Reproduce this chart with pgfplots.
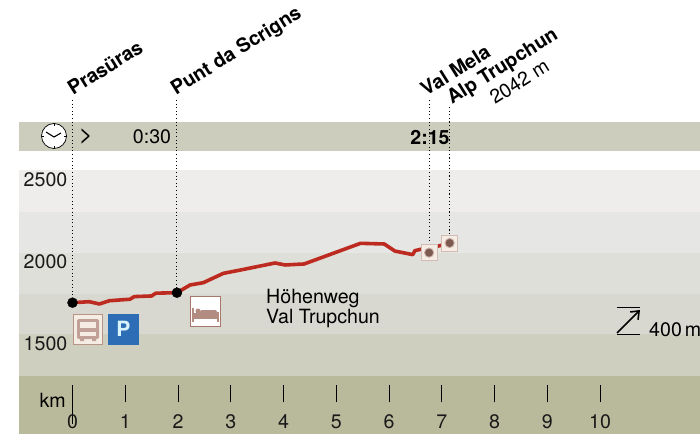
\documentclass[border=0pt]{standalone}
\usepackage{fontspec}
\setmainfont{TeX Gyre Heros}
\usepackage{pgfplots}
\usetikzlibrary{arrows.meta}
\pgfplotsset{compat=1.18}
\definecolor{strip}{HTML}{CCCDBD}
\definecolor{bA}{HTML}{EEEDEB}
\definecolor{bB}{HTML}{E6E6E4}
\definecolor{bC}{HTML}{DFDFD9}
\definecolor{bD}{HTML}{D8D8D0}
\definecolor{bE}{HTML}{CFCFBF}
\definecolor{bF}{HTML}{B9BA9B}
\definecolor{route}{HTML}{BC2A20}
\definecolor{icon}{HTML}{A5786A}
\definecolor{iconbg}{HTML}{F5EDE3}
\definecolor{pblue}{HTML}{2D6DB5}
\newcommand\lab{\fontsize{19.6}{22}\selectfont}
\newcommand\Pt[2]{({#1pt},{434pt-#2pt})}
\newcommand\band[3]{\addplot[fill=#1,draw=none] coordinates {(-1.0142,#2) (11.8957,#2) (11.8957,#3) (-1.0142,#3)} -- cycle;}
\begin{document}
\begin{tikzpicture}
\path[use as bounding box] (0,0) rectangle (700pt,434pt);
\begin{axis}[
  at={(0,0)},anchor=south west,
  scale only axis,width=700pt,height=434pt,
  xmin=-1.3744,xmax=11.8957,ymin=896.3,ymax=3542.7,
  clip=false,axis on top,
  axis x line=bottom,axis y line=left,
  axis x line shift=-32pt,axis y line shift=-67pt,
  x axis line style={draw=none,-},y axis line style={draw=none,-},
  xtick={0,1,...,10},ytick={1500,2000,2500},
  xtick align=inside,
  x tick style={black,line width=0.9pt},y tick style={draw=none},
  major tick length=17pt,
  /pgf/number format/assume math mode=true,
  /pgf/number format/1000 sep={},
  tick label style={font=\lab,text=black!90},
  xticklabel style={inner ysep=0pt,yshift=-12.5pt},
  yticklabel style={yshift=-8.8pt,xshift=9pt,inner xsep=0pt},
]
\band{strip}{2799}{2622}
\band{bA}{2506}{2250}
\band{bB}{2250}{2000}
\band{bC}{2000}{1750}
\band{bD}{1750}{1506}
\band{bE}{1506}{1250}
\band{bF}{1250}{896.3}
% leader lines
\addplot[black,line width=1.1pt,dash pattern=on 1.1pt off 2.5pt] coordinates {(0,2933) (0,1697)};
\addplot[black,line width=1.1pt,dash pattern=on 1.1pt off 2.5pt] coordinates {(1.98,2933) (1.98,1758)};
\addplot[black,line width=1.1pt,dash pattern=on 1.1pt off 2.5pt] coordinates {(6.76,2933) (6.76,2049)};
\addplot[black,line width=1.1pt,dash pattern=on 1.1pt off 2.5pt] coordinates {(7.15,2890) (7.15,2110)};
% km 0 long tick
\addplot[black,line width=1.4pt] coordinates {(0,1122) (0,955)};
% profile
\addplot[route,line width=3.6pt,line join=round] coordinates {
(0.00,1697) (0.32,1703) (0.51,1689) (0.70,1709) (1.09,1718) (1.17,1734)
(1.50,1738) (1.58,1755) (1.98,1758) (2.23,1805) (2.48,1819) (2.86,1876)
(3.18,1896) (3.84,1939) (4.03,1927) (4.39,1933) (5.46,2059) (5.91,2055)
(6.11,2012) (6.45,1990) (6.49,2014) (6.62,2024) (6.97,2045) (7.15,2061)};
\addplot[only marks,mark=*,mark size=5pt,black] coordinates {(0,1697) (1.98,1758)};
\addplot[only marks,mark=square*,mark size=8pt,mark options={draw=icon!50,fill=iconbg,line width=0.9pt}] coordinates {(6.76,2002) (7.15,2061)};
\addplot[only marks,mark=*,mark size=4.6pt,mark options={draw=icon!60,fill=icon!75!black,line width=0.9pt}] coordinates {(6.76,2002) (7.15,2061)};
\end{axis}
% rotated place names
\begin{scope}[every node/.style={anchor=base west,inner sep=0pt,rotate=32}]
\node[font=\lab\bfseries] at \Pt{73}{96} {Prasüras};
\node[font=\lab\bfseries] at \Pt{176}{96} {Punt da Scrigns};
\node[font=\lab\bfseries] at \Pt{426}{97} {Val Mela};
\node[font=\lab\bfseries] at \Pt{452}{105} {Alp Trupchun};
\node[font=\lab] at \Pt{495}{105} {2042 m};
\end{scope}
% time strip
\filldraw[fill=white,draw=black,line width=0.7pt] \Pt{54}{136} circle (12.5pt);
\draw[black,line width=1.1pt] \Pt{46}{132} -- \Pt{54}{137} -- \Pt{61}{133};
\foreach \a in {0,90,180,270} \draw[black,line width=0.5pt] ({54pt+12.5pt*cos(\a)},{298pt+12.5pt*sin(\a)}) -- ({54pt+10pt*cos(\a)},{298pt+10pt*sin(\a)});
\node[font=\fontsize{24}{24}\selectfont,anchor=center,inner sep=0pt] at \Pt{86}{136.5} {>};
\node[font=\lab,anchor=center,inner sep=0pt] at \Pt{152}{137} {0:30};
\node[font=\lab\bfseries,anchor=center,inner sep=0pt] at \Pt{430}{137} {2:15};
\node[font=\lab,anchor=east,inner sep=0pt] at \Pt{66}{400} {km};
% texts
\node[font=\lab,anchor=base west,inner sep=0pt] at \Pt{266}{303} {Höhenweg};
\node[font=\lab,anchor=base west,inner sep=0pt] at \Pt{266}{323} {Val Trupchun};
% scale arrow
\draw[black,line width=0.6pt] \Pt{617}{307} -- \Pt{640}{307} \Pt{617}{334} -- \Pt{640}{334};
\draw[black,line width=1.6pt,-{Straight Barb[length=7pt,width=11pt]}] \Pt{617}{333} -- \Pt{640}{310};
\node[font=\lab,anchor=base west,inner sep=0pt] at \Pt{649}{336} {400\hspace{0.15em}m};
% bus icon
\filldraw[fill=iconbg,draw=icon!80,line width=0.8pt] \Pt{73.5}{314.5} rectangle \Pt{102.5}{344.5};
\fill[icon!70,rounded corners=2pt] \Pt{77}{319} rectangle \Pt{99}{339};
\fill[iconbg] \Pt{80}{322} rectangle \Pt{96}{328};
\fill[iconbg] \Pt{80}{332} rectangle \Pt{96}{336};
\fill[icon!70] \Pt{80}{339} rectangle \Pt{84}{341} \Pt{92}{339} rectangle \Pt{96}{341};
% P icon
\fill[pblue] \Pt{108}{314} rectangle \Pt{139}{345};
\node[font=\fontsize{21}{22}\selectfont\bfseries,text=white!85!cyan,inner sep=0pt] at \Pt{123.5}{329} {P};
% bed icon
\filldraw[fill=white,draw=icon,line width=0.9pt] \Pt{190.5}{296.5} rectangle \Pt{220.5}{326.5};
\fill[icon!85] \Pt{192}{313} rectangle \Pt{219}{319};
\fill[icon!85] \Pt{192}{308} rectangle \Pt{194}{322};
\fill[icon!85] \Pt{217}{312} rectangle \Pt{219}{322};
\fill[icon!85,rounded corners=2pt] \Pt{200}{310} rectangle \Pt{217}{314};
\fill[icon!85] \Pt{198}{311} circle (2.5pt);
\end{tikzpicture}
\end{document}
